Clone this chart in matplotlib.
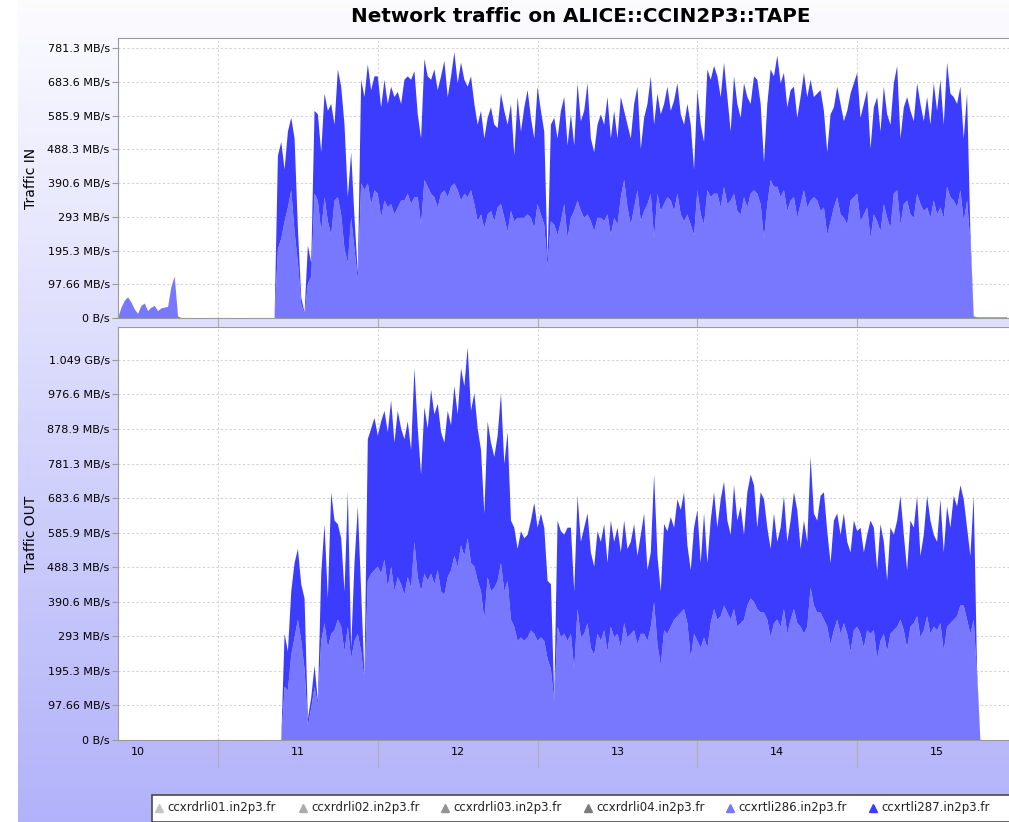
import numpy as np
import matplotlib.pyplot as plt
from matplotlib.colors import LinearSegmentedColormap
from matplotlib.lines import Line2D
from matplotlib.patches import Rectangle

# samples every 30 minutes, first sample on day 10 at 09:00
t_start = 10.375
t_step = 1 / 48

# ---- Traffic IN (MB/s) : total of the stack, and ccxrtli286 (lower layer)
in_286 = ([0, 30, 50, 60, 45, 25, 12, 35, 42, 20, 30, 35, 20, 28, 30, 32, 90, 120, 5]
          + [0] * 29 +
          [200, 230, 280, 320, 370, 250, 160, 40, 10, 100,
           120, 360, 340, 250, 350, 280, 240, 340, 350, 300,
           200, 160, 290, 200, 110, 390, 370, 390, 330, 370,
           360, 290, 340, 320, 330, 300, 320, 340, 340, 360,
           330, 350, 350, 270, 400, 380, 360, 350, 320, 360,
           370, 350, 380, 390, 370, 340, 360, 350, 370, 330,
           280, 300, 260, 300, 310, 280, 320, 330, 290, 250,
           310, 280, 290, 290, 290, 300, 290, 260, 330, 300,
           270, 150, 280, 270, 240, 280, 330, 230, 290, 310,
           340, 310, 290, 300, 280, 250, 290, 290, 280, 300,
           240, 290, 270, 350, 400, 320, 270, 320, 370, 280,
           310, 330, 360, 230, 360, 310, 330, 350, 340, 310,
           360, 300, 280, 300, 270, 240, 370, 300, 270, 370,
           350, 360, 360, 320, 380, 330, 340, 360, 310, 300,
           350, 320, 360, 370, 360, 330, 230, 330, 400, 380,
           380, 350, 370, 310, 340, 350, 290, 330, 370, 320,
           340, 350, 340, 310, 320, 240, 280, 320, 350, 300,
           290, 270, 340, 350, 360, 280, 300, 320, 230, 300,
           280, 250, 330, 290, 260, 360, 370, 270, 330, 340,
           300, 290, 360, 330, 310, 320, 290, 340, 300, 320,
           290, 380, 350, 340, 320, 370, 280, 340, 220, 5]
          + [2] * 10)

in_total = ([0, 30, 50, 60, 45, 25, 12, 35, 42, 20, 30, 35, 20, 28, 30, 32, 90, 120, 5]
            + [0] * 29 +
            [470, 510, 430, 540, 580, 520, 260, 60, 15, 210,
             160, 600, 590, 480, 650, 600, 620, 560, 720, 670,
             560, 350, 480, 290, 130, 690, 640, 735, 660, 700,
             700, 610, 690, 620, 670, 640, 655, 620, 690, 700,
             690, 715, 590, 520, 750, 700, 690, 720, 660, 700,
             745, 640, 700, 770, 680, 740, 690, 670, 700, 620,
             560, 600, 520, 580, 610, 560, 550, 650, 600, 560,
             620, 470, 640, 540, 610, 660, 580, 520, 670, 600,
             540, 170, 560, 580, 520, 600, 640, 500, 590, 500,
             680, 570, 600, 680, 520, 480, 560, 590, 560, 640,
             520, 600, 520, 640, 600, 560, 520, 620, 670, 490,
             580, 620, 700, 560, 650, 590, 620, 670, 600, 630,
             680, 590, 560, 620, 560, 430, 660, 560, 510, 720,
             690, 730, 700, 640, 740, 640, 540, 700, 620, 580,
             680, 640, 620, 700, 690, 620, 450, 620, 720, 700,
             760, 680, 710, 610, 660, 670, 580, 640, 710, 640,
             690, 640, 650, 660, 600, 480, 590, 610, 670, 620,
             570, 600, 650, 680, 710, 580, 620, 660, 490, 610,
             640, 540, 670, 590, 560, 680, 730, 520, 610, 640,
             600, 570, 680, 620, 570, 640, 560, 680, 600, 690,
             560, 740, 650, 640, 620, 670, 520, 650, 250, 5]
            + [2] * 10)

# ---- Traffic OUT (MB/s)
out_286 = ([0] * 50 +
           [150, 140, 240, 290, 340, 280, 200, 40, 90, 150,
            100, 280, 330, 260, 300, 310, 340, 320, 250, 320,
            230, 280, 300, 250, 170, 450, 470, 480, 490, 470,
            510, 430, 490, 420, 460, 440, 410, 460, 430, 560,
            460, 420, 470, 450, 470, 440, 480, 420, 410, 460,
            480, 520, 490, 550, 520, 570, 500, 490, 450, 420,
            340, 460, 420, 430, 450, 500, 420, 450, 340, 320,
            280, 290, 280, 290, 310, 300, 280, 290, 280, 230,
            200, 110, 320, 290, 300, 280, 300, 200, 370, 290,
            300, 330, 260, 240, 300, 280, 310, 250, 320, 290,
            300, 260, 330, 290, 300, 310, 270, 300, 300, 280,
            320, 390, 270, 210, 310, 300, 320, 340, 350, 360,
            370, 330, 230, 300, 280, 260, 290, 260, 330, 370,
            340, 350, 380, 360, 340, 370, 320, 330, 340, 380,
            400, 390, 370, 360, 360, 340, 290, 330, 340, 320,
            370, 300, 340, 370, 330, 320, 300, 320, 430, 380,
            360, 360, 340, 320, 270, 310, 340, 300, 330, 300,
            250, 310, 320, 300, 260, 310, 300, 310, 230, 280,
            300, 250, 300, 310, 320, 340, 310, 260, 320, 330,
            350, 290, 310, 350, 300, 320, 310, 330, 250, 320,
            330, 340, 350, 380, 380, 340, 300, 340, 180]
           + [0] * 9)

out_total = ([0] * 50 +
             [300, 250, 420, 500, 540, 440, 400, 60, 120, 210,
              110, 470, 610, 400, 700, 620, 610, 570, 420, 700,
              260, 500, 660, 420, 180, 850, 880, 910, 860, 900,
              930, 870, 960, 840, 930, 880, 850, 900, 820, 1050,
              880, 750, 940, 880, 990, 920, 950, 870, 840, 930,
              890, 1000, 920, 1050, 1000, 1110, 930, 980, 880, 820,
              640, 900, 840, 800, 860, 980, 780, 870, 620, 600,
              540, 590, 570, 580, 620, 670, 600, 640, 600, 450,
              440, 120, 620, 590, 580, 600, 600, 420, 690, 560,
              600, 640, 530, 490, 590, 560, 610, 500, 620, 560,
              600, 530, 620, 540, 560, 610, 520, 580, 640, 480,
              530, 750, 520, 420, 610, 590, 630, 600, 680, 650,
              700, 550, 480, 600, 650, 500, 640, 500, 620, 700,
              600, 680, 730, 620, 580, 720, 620, 660, 580, 700,
              750, 720, 600, 700, 680, 600, 540, 640, 560, 600,
              690, 560, 620, 700, 650, 540, 620, 560, 800, 640,
              620, 690, 700, 590, 500, 620, 640, 580, 640, 560,
              530, 620, 590, 600, 530, 580, 620, 600, 480, 610,
              560, 450, 600, 580, 620, 690, 580, 480, 620, 600,
              690, 520, 580, 690, 620, 580, 560, 680, 530, 660,
              600, 690, 660, 720, 680, 600, 520, 690, 200]
             + [0] * 9)

in_tick_labels = ['0 B/s', '97.66 MB/s', '195.3 MB/s', '293 MB/s', '390.6 MB/s',
                  '488.3 MB/s', '585.9 MB/s', '683.6 MB/s', '781.3 MB/s']
out_tick_labels = in_tick_labels + ['878.9 MB/s', '976.6 MB/s', '1.049 GB/s']
day_labels = ['10', '11', '12', '13', '14', '15']
hosts = ['ccxrdrli01.in2p3.fr', 'ccxrdrli02.in2p3.fr', 'ccxrdrli03.in2p3.fr',
         'ccxrdrli04.in2p3.fr', 'ccxrtli286.in2p3.fr', 'ccxrtli287.in2p3.fr']
host_colors = ['#c4c4c4', '#ababab', '#939393', '#7b7b7b', '#7878ff', '#3c3cff']

W, H = 1009, 822
fig = plt.figure(figsize=(W / 100, H / 100), dpi=100)
fig.patch.set_facecolor('white')

# lavender gradient behind everything
bg = fig.add_axes([18 / W, 0, 1 - 18 / W, 1])
bg.axis('off')
grad = LinearSegmentedColormap.from_list('bg', ['#fcfcff', '#b2b2fa'])
bg.imshow(np.linspace(0, 1, 256).reshape(-1, 1), aspect='auto', cmap=grad,
          extent=[0, 1, 0, 1], origin='upper')

t = t_start + np.arange(len(in_total)) * t_step
x_lo = 11 - 100 / 159.8
x_hi = 11 + (W - 218) / 159.8


def px_axes(left, top, right, bottom):
    return fig.add_axes([left / W, 1 - bottom / H, (right - left) / W, (bottom - top) / H])


def style(ax, ymax, labels):
    ax.set_facecolor('white')
    ax.set_xlim(x_lo, x_hi)
    ax.set_ylim(0, ymax)
    ticks = np.arange(len(labels)) * 97.65625
    ax.set_yticks(ticks)
    ax.set_yticklabels(labels)
    ax.set_xticks(np.arange(11, 16))
    ax.grid(True, which='major', color='#d4d4d4', linestyle=(0, (2, 2)), linewidth=0.8)
    ax.set_axisbelow(True)
    for s in ax.spines.values():
        s.set_color('#9a9a9a')
        s.set_zorder(5)
    ax.spines['right'].set_visible(False)
    ax.tick_params(axis='y', length=4, color='#9a9a9a', labelsize=8, pad=2)
    ax.tick_params(axis='x', which='major', length=20, color='#b0b0b0', labelbottom=False)


top = px_axes(118, 38, W, 318)
top.stackplot(t, in_286, np.array(in_total) - np.array(in_286),
              colors=['#7878ff', '#3c3cff'], linewidth=0, zorder=3)
style(top, 811, in_tick_labels)
top.tick_params(axis='x', which='major', length=10)
top.set_ylabel('Traffic IN', fontsize=10)
top.yaxis.set_label_coords(-80 / (W - 118), 0.5)

bot = px_axes(118, 327, W, 740)
bot.stackplot(t, out_286, np.array(out_total) - np.array(out_286),
              colors=['#7878ff', '#3c3cff'], linewidth=0, zorder=3)
style(bot, 1167, out_tick_labels)
bot.set_xticks(np.arange(10, 16) + 0.5, minor=True)
bot.set_xticklabels(day_labels, minor=True)
bot.tick_params(axis='x', which='minor', length=0, labelsize=8, pad=5)
bot.set_ylabel('Traffic OUT', fontsize=10)
bot.yaxis.set_label_coords(-80 / (W - 118), 0.5)

fig.text(581 / W, 1 - 17 / H, 'Network traffic on ALICE::CCIN2P3::TAPE',
         ha='center', va='center', fontsize=14.3, fontweight='bold')

# legend strip along the bottom edge
fig.patches.append(Rectangle((152 / W, 0), 1, 27 / H, transform=fig.transFigure,
                             facecolor='white', edgecolor='#4a4a4a', linewidth=1.2))
marker_x = [159, 303, 445, 588, 730, 873]
for mx, name, col in zip(marker_x, hosts, host_colors):
    fig.lines.append(Line2D([mx / W], [1 - 808 / H], transform=fig.transFigure,
                            marker='^', markersize=6, color=col, linestyle='none'))
    fig.text((mx + 8) / W, 1 - 807 / H, name, fontsize=8.5, va='center', ha='left',
             color='#222222')

fig.savefig('out.png', dpi=100)
